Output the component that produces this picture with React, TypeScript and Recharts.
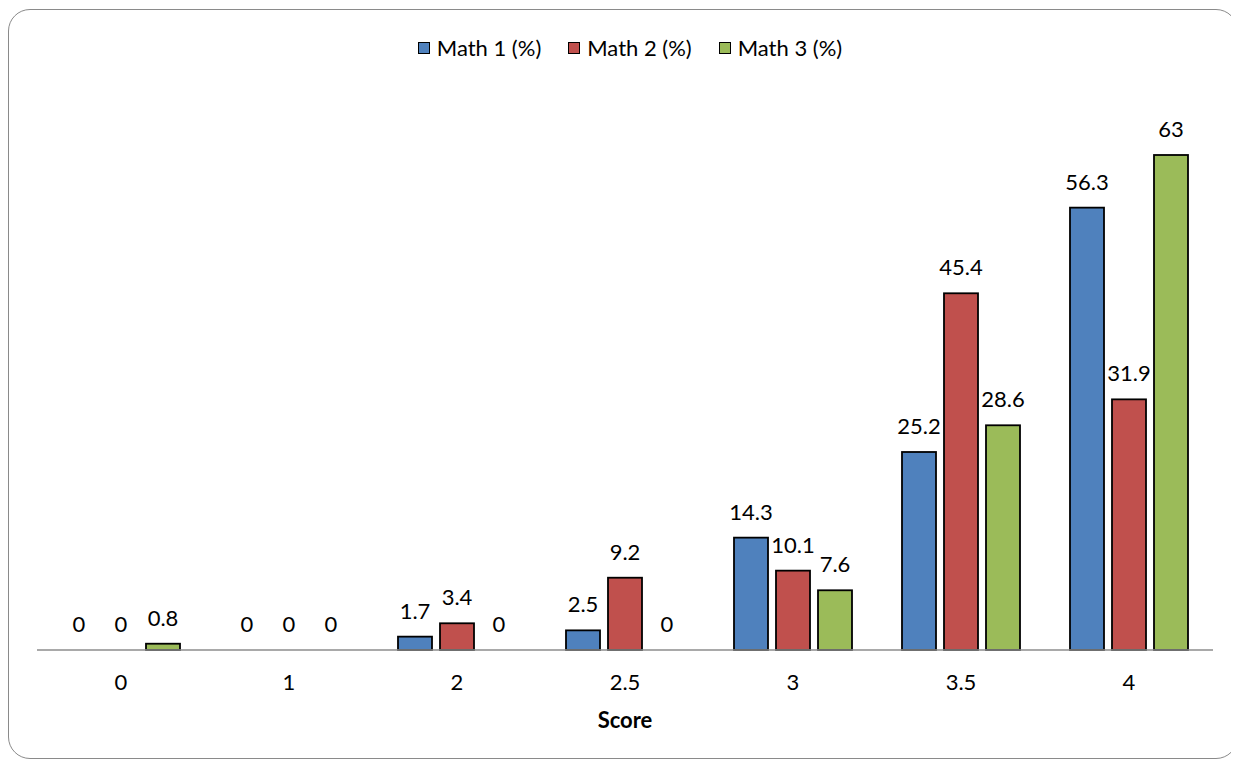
import React from "react";
import { BarChart, Bar, XAxis, YAxis, LabelList, Label } from "recharts";

// Score categories on the x axis
const scores = ["0", "1", "2", "2.5", "3", "3.5", "4"];

// Percentage of students per score, one array per course
const math1 = [0, 0, 1.7, 2.5, 14.3, 25.2, 56.3];
const math2 = [0, 0, 3.4, 9.2, 10.1, 45.4, 31.9];
const math3 = [0.8, 0, 0, 0, 7.6, 28.6, 63];

const seriesNames = ["Math 1 (%)", "Math 2 (%)", "Math 3 (%)"];
const seriesColors = ["#4F81BD", "#C0504D", "#9BBB59"];

const data = scores.map((score, i) => ({
  score,
  m1: math1[i],
  m2: math2[i],
  m3: math3[i],
}));

const FONT = "Lato, 'Open Sans', sans-serif";
const FONT_SIZE = 22;

// Skip bars whose value is zero so no stroked sliver is drawn on the axis
const BarShape = (props: any) => {
  const { x, y, width, height, fill } = props;
  if (!height || height <= 0) return null;
  return (
    <rect
      x={x}
      y={y}
      width={width}
      height={height}
      fill={fill}
      stroke="#000"
      strokeWidth={1.8}
    />
  );
};

const LegendBox = () => (
  <div
    style={{
      position: "absolute",
      left: 0,
      top: 27,
      width: 1244,
      display: "flex",
      justifyContent: "center",
      alignItems: "center",
      fontFamily: FONT,
      fontSize: FONT_SIZE,
      lineHeight: "26px",
      color: "#000",
    }}
  >
    {seriesNames.map((name, i) => (
      <div
        key={name}
        style={{ display: "flex", alignItems: "center", marginRight: i < 2 ? 27 : 0 }}
      >
        <span
          style={{
            display: "inline-block",
            width: 12,
            height: 12,
            boxSizing: "border-box",
            background: seriesColors[i],
            border: "1.5px solid #000",
            marginRight: 7,
          }}
        />
        <span>{name}</span>
      </div>
    ))}
  </div>
);

const ScoreTitle = (props: any) => {
  const vb = props.viewBox || {};
  return (
    <text
      x={vb.x + vb.width / 2}
      y={vb.y + 69}
      textAnchor="middle"
      dominantBaseline="central"
      fontFamily={FONT}
      fontSize={FONT_SIZE}
      fontWeight="bold"
      fill="#000"
    >
      Score
    </text>
  );
};

const keys = ["m1", "m2", "m3"];

export default function App() {
  return (
    <div style={{ position: "relative", width: 1231, height: 752 }}>
      <div
        style={{
          position: "absolute",
          left: 0,
          top: 1,
          width: 1230,
          height: 750,
          boxSizing: "border-box",
          border: "1.5px solid #8a8a8a",
          borderRadius: 22,
          background: "#fff",
        }}
      />
      <div style={{ position: "absolute", left: 0, top: 0 }}>
        <BarChart
          width={1231}
          height={752}
          data={data}
          margin={{ top: 92, left: 29, right: 26, bottom: 30 }}
          barCategoryGap={25}
          barGap={8}
        >
          <XAxis
            dataKey="score"
            height={80}
            axisLine={{ stroke: "#8c8c8c", strokeWidth: 1.5 }}
            tickLine={false}
            tickSize={0}
            tickMargin={24}
            tick={{ fontFamily: FONT, fontSize: FONT_SIZE, fill: "#000" }}
          >
            <Label content={<ScoreTitle />} />
          </XAxis>
          <YAxis hide domain={[0, 70]} />
          {keys.map((k, i) => (
            <Bar
              key={k}
              dataKey={k}
              name={seriesNames[i]}
              fill={seriesColors[i]}
              shape={<BarShape />}
              isAnimationActive={false}
            >
              <LabelList
                dataKey={k}
                position="top"
                offset={18}
                fontFamily={FONT}
                fontSize={FONT_SIZE}
                fill="#000"
              />
            </Bar>
          ))}
        </BarChart>
      </div>
      <LegendBox />
    </div>
  );
}
